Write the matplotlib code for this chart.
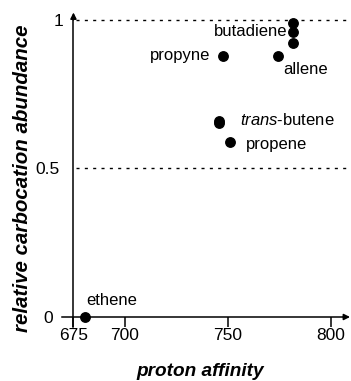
import matplotlib
matplotlib.use("Agg")
import matplotlib.pyplot as plt

plt.rcParams['font.family'] = ['Liberation Sans', 'DejaVu Sans']
plt.rcParams['mathtext.fontset'] = 'custom'
plt.rcParams['mathtext.rm'] = 'Liberation Sans'
plt.rcParams['mathtext.it'] = 'Liberation Sans:italic'

# proton affinity vs. relative carbocation abundance
names = ['ethene', 'propyne', 'allene', 'butadiene', 'butadiene', 'butadiene',
         'trans-butene', 'trans-butene', 'propene']
affinity = [680.5, 747.4, 774.3, 781.7, 781.7, 781.7, 745.6, 745.6, 751.0]
abundance = [0.0, 0.879, 0.879, 0.989, 0.959, 0.922, 0.660, 0.652, 0.590]

x_ticks = [675, 700, 750, 800]
y_ticks = [0, 0.5, 1]
y_tick_labels = ['0', '0.5', '1']
y_grid = [0.5, 1]

# label text, index of the point it belongs to, offset (pt), alignment
labels = [
    ('ethene', 0, (0.7, 12), 'left'),
    ('propyne', 1, (-9, 0), 'right'),
    ('allene', 2, (3.6, -10), 'left'),
    ('butadiene', 4, (-3.8, 0.5), 'right'),
    ('$\\it{trans}$-butene', 6, (15, 0.5), 'left'),
    ('propene', 8, (11.5, -1.7), 'left'),
]

fig = plt.figure(figsize=(3.51, 3.81), dpi=100)
ax = fig.add_axes([0.177, 0.1407, 0.8214, 0.8304])
ax.set_xlim(669.5, 809.5)
ax.set_ylim(-0.035, 1.03)

ax.hlines(y_grid, 676, 808, colors='k', linewidth=1.0,
          linestyles=(0, (2.2, 3.8)))

ax.plot(affinity, abundance, 'o', color='k', markersize=6.8, clip_on=False,
        zorder=5)

for text, i, off, ha in labels:
    ax.annotate(text, (affinity[i], abundance[i]), xytext=off,
                textcoords='offset points', ha=ha, va='center', fontsize=12)

# axis lines crossing at (675, 0), with arrow heads
for side in ['top', 'right']:
    ax.spines[side].set_visible(False)
ax.spines['bottom'].set_position(('data', 0))
ax.spines['left'].set_position(('data', 675))
ax.spines['bottom'].set_bounds(669.5, 807)
ax.spines['left'].set_bounds(-0.035, 1.01)
for side in ['bottom', 'left']:
    ax.spines[side].set_linewidth(1.1)

arrow = dict(arrowstyle='-|>', color='k', lw=1.1, mutation_scale=9,
             shrinkA=0, shrinkB=0)
ax.annotate('', xy=(809.3, 0), xytext=(806, 0), arrowprops=arrow,
            annotation_clip=False)
ax.annotate('', xy=(675, 1.025), xytext=(675, 1.0), arrowprops=arrow,
            annotation_clip=False)

ax.set_xticks(x_ticks)
ax.set_xticklabels([str(v) for v in x_ticks])
ax.tick_params(axis='x', direction='out', length=7.2, width=1.1, pad=1,
               labelsize=12.5)
ax.set_yticks(y_ticks)
ax.set_yticklabels(y_tick_labels)
ax.tick_params(axis='y', length=0, labelsize=12.5)
for tick, pad in zip(ax.yaxis.get_major_ticks(), [15, 10, 7.2]):
    tick.set_pad(pad)

ax.set_xlabel('proton affinity', fontsize=13.7, fontweight='bold',
              fontstyle='italic')
ax.set_ylabel('relative carbocation abundance', fontsize=14.8,
              fontweight='bold', fontstyle='italic')
ax.xaxis.set_label_coords(0.48, -0.112)
ax.yaxis.set_label_coords(-0.105, 0.47)

fig.savefig('out.png', dpi=100)
